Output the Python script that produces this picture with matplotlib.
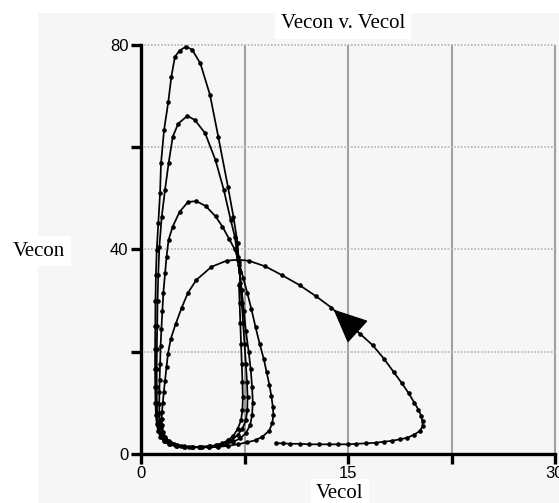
import matplotlib
matplotlib.use('Agg')
import matplotlib.pyplot as plt
from matplotlib.patches import Rectangle
import numpy as np

# trajectory (Vecol, Vecon)
vecol = [9.8, 10.3, 10.8, 11.5, 12.2, 12.9, 13.6, 14.3, 15.0, 15.6, 16.3, 17.0, 17.6, 18.2, 18.8, 19.3, 19.8, 20.2, 20.4, 20.4,
         20.3, 20.1, 19.8, 19.4, 18.9, 18.3, 17.6, 16.8, 15.9, 14.9, 13.8, 12.7, 11.5, 10.2, 9.0, 7.8, 7.0, 6.2, 5.1, 4.0,
         3.4, 2.95, 2.5, 2.15, 1.95, 1.85, 1.75, 1.65, 1.58, 1.52, 1.5, 1.52, 1.6, 1.75, 2.0, 2.4, 2.9, 3.5, 4.2, 4.9,
         5.6, 6.3, 7.0, 7.7, 8.3, 8.8, 9.3, 9.5, 9.6, 9.55, 9.45, 9.3, 9.1, 8.9, 8.6, 8.3, 8.0, 7.7, 7.4, 7.1,
         6.8, 6.4, 5.9, 5.4, 4.7, 4.0, 3.4, 2.8, 2.3, 2.0, 1.85, 1.74, 1.62, 1.55, 1.48, 1.42, 1.38, 1.35, 1.33, 1.32,
         1.33, 1.36, 1.42, 1.52, 1.68, 1.9, 2.2, 2.6, 3.1, 3.7, 4.3, 4.9, 5.5, 6.1, 6.7, 7.2, 7.6, 7.9, 8.05, 8.1,
         8.05, 7.95, 7.8, 7.6, 7.45, 7.3, 7.15, 7.0, 6.8, 6.5, 6.0, 5.4, 4.65, 3.9, 3.36, 2.7, 2.3, 2.0, 1.74, 1.5,
         1.33, 1.25, 1.2, 1.17, 1.15, 1.14, 1.14, 1.15, 1.18, 1.24, 1.34, 1.5, 1.75, 2.1, 2.6, 3.2, 3.8, 4.4, 5.0, 5.6,
         6.1, 6.6, 7.0, 7.35, 7.6, 7.7, 7.72, 7.68, 7.6, 7.5, 7.4, 7.3, 7.2, 7.1, 7.0, 6.7, 6.3, 5.6, 5.0, 4.3,
         3.7, 3.26, 2.8, 2.46, 2.2, 1.98, 1.67, 1.45, 1.38, 1.25, 1.14, 1.08, 1.05, 1.03, 1.02, 1.02, 1.03, 1.05, 1.08, 1.14,
         1.24, 1.4, 1.65, 2.0, 2.5, 3.1, 3.7, 4.3, 4.9, 5.4, 5.9, 6.3, 6.7, 7.0, 7.25, 7.35, 7.38, 7.35, 7.3, 7.25,
         7.2, 7.15, 7.1]
vecon = [2.0, 2.0, 1.9, 1.9, 1.8, 1.8, 1.8, 1.8, 1.8, 1.9, 2.0, 2.1, 2.3, 2.5, 2.8, 3.1, 3.7, 4.4, 5.3, 6.3,
         7.4, 8.6, 10.0, 11.8, 13.8, 16.0, 18.6, 21.2, 23.4, 25.9, 28.6, 30.8, 33.0, 35.0, 36.7, 37.8, 38.0, 37.8, 36.6, 34.0,
         31.5, 28.6, 25.3, 22.4, 19.5, 17.0, 14.3, 12.0, 10.0, 8.2, 6.8, 5.5, 4.3, 3.3, 2.5, 1.9, 1.5, 1.3, 1.2, 1.2,
         1.3, 1.5, 1.8, 2.2, 2.6, 3.3, 4.5, 5.9, 7.5, 9.2, 11.2, 13.5, 16.0, 18.5, 21.5, 24.8, 28.3, 31.5, 34.5, 37.5,
         40.0, 42.0, 44.5, 46.5, 48.5, 49.5, 49.3, 47.4, 44.5, 41.9, 38.6, 35.3, 31.5, 28.0, 24.5, 21.0, 17.5, 14.5, 12.0, 9.8,
         8.0, 6.5, 5.2, 4.1, 3.2, 2.5, 2.0, 1.6, 1.4, 1.3, 1.3, 1.3, 1.5, 1.8, 2.3, 3.0, 4.0, 5.5, 7.5, 10.0,
         13.0, 16.5, 20.0, 24.0, 28.0, 32.0, 35.5, 38.5, 42.5, 45.8, 51.7, 57.5, 62.8, 65.4, 66.2, 64.7, 62.1, 56.9, 51.7, 46.4,
         40.5, 35.0, 30.0, 25.0, 20.5, 16.5, 13.0, 10.0, 7.6, 5.8, 4.4, 3.3, 2.4, 1.8, 1.5, 1.3, 1.3, 1.3, 1.4, 1.6,
         2.0, 2.7, 3.6, 4.9, 6.5, 8.5, 11.0, 14.0, 17.5, 21.5, 25.5, 29.5, 33.5, 37.0, 41.2, 46.4, 52.3, 62.1, 70.3, 76.5,
         79.2, 79.8, 79.0, 77.8, 73.9, 69.0, 63.4, 56.9, 51.0, 45.1, 39.9, 35.0, 30.0, 25.0, 20.5, 16.5, 13.0, 10.0, 7.6, 5.8,
         4.4, 3.3, 2.4, 1.8, 1.5, 1.3, 1.3, 1.3, 1.4, 1.6, 2.0, 2.6, 3.5, 4.8, 6.5, 8.5, 11.0, 14.0, 17.5, 21.5,
         25.5, 29.5, 33.0]

x_ticks = [0, 7.5, 15, 22.5, 30]
x_labels = ['0', '', '15', '', '30']
y_ticks = [0, 20, 40, 60, 80]
y_labels = ['0', '', '40', '', '80']
arrow_tip, arrow_tail = 30, 28          # indices into the trajectory

panel = '#f6f6f6'
fig = plt.figure(figsize=(5.59, 5.03), dpi=100, facecolor='white')
fig.patches.append(Rectangle((37.5/559, 0), 1, 1 - 12.5/503, transform=fig.transFigure,
                             facecolor=panel, edgecolor='none', zorder=-5))
ax = fig.add_axes([141/559, 1 - 453.5/503, 414/559, 408/503])
ax.set_zorder(2)
ax.set_facecolor(panel)

ax.set_xlim(0, 30)
ax.set_ylim(0, 80)
for x in x_ticks[1:]:
    ax.axvline(x, color='#a0a0a0', lw=1.5, zorder=1, clip_on=False)
for y in y_ticks[1:]:
    ax.axhline(y, color='#b4b4b4', lw=1.2, ls=(0, (1, 1)), zorder=1, clip_on=False)

ax.plot(vecol, vecon, color='black', lw=1.25, marker='o', ms=2.3, zorder=3, clip_on=False)
ax.annotate('', xy=(vecol[arrow_tip], vecon[arrow_tip]), xytext=(vecol[arrow_tail], vecon[arrow_tail]),
            arrowprops=dict(arrowstyle='-|>,head_length=1.0,head_width=0.45', mutation_scale=22,
                            color='black', lw=1), zorder=4)

for s in ['top', 'right']:
    ax.spines[s].set_visible(False)
for s in ['left', 'bottom']:
    ax.spines[s].set_linewidth(2.4)
ax.set_xticks(x_ticks)
ax.set_xticklabels(x_labels)
ax.set_yticks(y_ticks)
ax.set_yticklabels(y_labels)
ax.tick_params(length=7, width=2.4, labelsize=12, pad=2, color='black')
for lab in ax.get_xticklabels() + ax.get_yticklabels():
    lab.set_family('Liberation Sans')

box = dict(facecolor='white', edgecolor='none', pad=4)
fig.text(343/559, 1 - 24/503, 'Vecon v. Vecol', family='Liberation Serif', fontsize=15,
         ha='center', va='center', bbox=box, zorder=5)
fig.text(39/559, 1 - 251/503, 'Vecon', family='Liberation Serif', fontsize=15,
         ha='center', va='center', bbox=box, zorder=5)
fig.text(340/559, 1 - 494/503, 'Vecol', family='Liberation Serif', fontsize=15,
         ha='center', va='center', bbox=box, zorder=5)

fig.savefig('out.png', dpi=100, facecolor=fig.get_facecolor())
